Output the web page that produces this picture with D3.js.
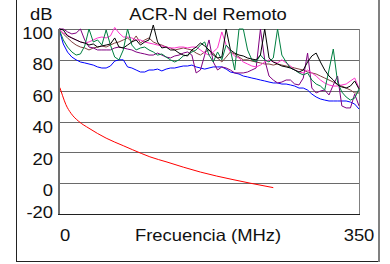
<!DOCTYPE html>
<html>
<head>
<meta charset="utf-8">
<script src="https://cdn.jsdelivr.net/npm/d3@7/dist/d3.min.js"></script>
<style>
  body { margin: 0; background: #fff; }
  svg { display: block; font-family: "Liberation Sans", Arial, sans-serif; }
</style>
</head>
<body>
<svg id="chart" width="390" height="264"></svg>
<script>
// frequency samples (MHz) shared by the measured pairs
const freq = [0, 5, 10, 15, 20, 25, 30, 35, 40, 45, 50, 55, 60, 65, 70, 75, 80, 85, 90, 95,
  100, 105, 110, 115, 120, 125, 130, 135, 140, 145, 150, 155, 160, 165, 170, 175, 180, 185, 190, 195,
  200, 205, 210, 215, 220, 225, 230, 235, 240, 245, 250, 255, 260, 265, 270, 275, 280, 285, 290, 295,
  300, 305, 310, 315, 320, 325, 330, 335, 340, 345, 350];

// ACR-N per pair (dB)
const blue = [100, 90.3, 85, 81.8, 80, 78.6, 78, 77.3, 76.6, 75.4, 74.7, 74.7, 76, 79.2, 80, 80, 75.4, 74.7, 73.4, 72.1,
  72.1, 73.4, 73.4, 74, 72.8, 74, 74.7, 74.7, 75.4, 76, 76, 76.6, 75.4, 74.7, 74, 74.7, 75.4, 75.4, 75.4, 74,
  72.1, 71.5, 70.8, 69.5, 68.9, 68.2, 67.6, 66.9, 66.3, 65.6, 65, 65, 64.3, 64.3, 63.7, 63, 61.7, 61.7, 60.4, 57.8,
  55.9, 54.6, 53.9, 53.3, 53.3, 53.3, 53.3, 53.3, 52.6, 51.3, 48.1];
const green = [100, 92.9, 88.3, 85.1, 83.1, 83.8, 89, 100, 91.6, 92.9, 89.6, 99.4, 89.6, 81.8, 80, 86.4, 100, 89.6, 86.4, 87.7,
  88.3, 86.4, 85.1, 83.1, 83.8, 81.8, 80, 78.6, 80, 82.5, 83.1, 85.1, 86.4, 89.6, 91.6, 83.1, 78.6, 85.1, 80, 89.6,
  86.4, 73.4, 100, 100, 86.4, 80, 78.6, 83.1, 80, 78.6, 81.2, 100, 83.1, 78.6, 74.7, 73.4, 71.5, 70.2, 71.5, 66.9,
  64.3, 63, 60.4, 73.4, 87, 65.6, 59.1, 55.9, 53.9, 55.2, 61.1];
const black = [100, 99.4, 95.5, 94.2, 92.9, 91.6, 90.9, 89.6, 90.3, 88.3, 89, 89.6, 90.3, 94.2, 88.3, 87.7, 89.6, 91.6, 92.9, 89.6,
  91.6, 92.9, 102.6, 91.6, 87.7, 88.3, 86.4, 86.4, 84.4, 83.1, 82.5, 86.4, 88.3, 90.9, 89, 86.4, 83.1, 81.2, 81.8, 100,
  86.4, 84.4, 83.1, 82.5, 81.2, 80.5, 80, 83.1, 100, 81.2, 78.6, 77.3, 76, 75.4, 74.7, 73.4, 72.1, 73.4, 78.6, 82.5,
  84.4, 78.6, 73.4, 69.5, 66.9, 63.7, 62.4, 61.7, 63, 66.3, 61.1];
const pink = [100, 97.4, 96.1, 94.2, 92.9, 91.6, 90.9, 91.6, 92.9, 94.2, 94.8, 94.2, 95.5, 101, 97.4, 94.8, 94.8, 94.2, 92.9, 92.9,
  91.6, 90.9, 90.3, 89.6, 89, 88.3, 87.7, 87.7, 88.3, 88.3, 87.7, 88.3, 88.3, 86.4, 84.4, 83.1, 85.1, 87.7, 98.1, 89.6,
  85.1, 82.5, 81.2, 78.6, 77.3, 76, 75.4, 76.6, 78.6, 80, 78.6, 78, 80, 78, 76, 73.4, 72.1, 71.5, 73.4, 71.5,
  69.5, 66.9, 65, 63.7, 63, 63, 63.7, 64.3, 66.3, 68.2, 61.7];
const purple = [100, 100, 98.1, 96.8, 97.4, 100, 92.9, 88.3, 87.7, 86.4, 86.4, 86.4, 86.4, 87.7, 88.3, 87.7, 87, 86.4, 85.1, 84.4,
  83.8, 83.1, 83.1, 84.4, 83.1, 81.8, 81.2, 82.5, 83.1, 84.4, 85.1, 83.1, 71.5, 73.4, 83.1, 92.9, 78.6, 73.4, 75.4, 74.7,
  73.4, 71.5, 71.5, 71.5, 72.1, 73.4, 74.7, 100, 80, 69.5, 66.9, 65, 65.6, 66.9, 66.9, 64.3, 63.7, 68.2, 84.4, 61.7,
  58.5, 59.8, 60.4, 57.2, 63.7, 69.5, 50.1, 48.8, 48.8, 57.8, 50.1];
const brown = [100, 96.8, 94.2, 91.6, 89.6, 88.3, 87.7, 86.4, 87.7, 88.3, 89, 88.3, 89.6, 90.9, 91.6, 92.9, 94.2, 91.6, 95.5, 90.9,
  92.9, 94.2, 91.6, 90.3, 89.6, 88.3, 87.7, 86.4, 87, 87.7, 87, 86.4, 84.4, 83.1, 85.1, 86.4, 84.4, 81.2, 78.6, 81.8,
  85.1, 83.8, 81.8, 80, 80, 79.2, 78.6, 78, 77.3, 77.3, 76.6, 77.3, 76.6, 76, 75.4, 74.7, 74, 73.4, 72.1, 71.5,
  70.8, 69.5, 68.2, 66.9, 65.6, 64.3, 63, 61.7, 60.4, 58.5, 58.5];

// limit curve
const limitFreq = [1, 4, 8, 14, 23, 35, 55, 75, 96, 106, 126, 145, 165, 184, 203, 223, 250];
const limitDb = [62, 57, 51, 45.3, 40.1, 35.6, 29.2, 24.3, 19.3, 17.1, 13.7, 10.4, 7.2, 4.6, 2.3, 0, -2.9];

const yTicks = [100, 80, 60, 40, 20, 0, -20];
const xTicks = [0, 350];

const margin = { left: 59, right: 31, top: 29, bottom: 50 };
const width = 390, height = 264;

const svg = d3.select("#chart");

const x = d3.scaleLinear().domain([0, 350]).range([margin.left, width - margin.right]);
const y = d3.scaleLinear().domain([-20, 100]).range([height - margin.bottom, margin.top]);

// the original lettering is a little wider than Arial
function label(px, py, txt, anchor) {
  return svg.append("text")
    .attr("transform", `translate(${px},${py}) scale(1.13,1)`)
    .attr("text-anchor", anchor || "start")
    .attr("font-size", 16.3)
    .attr("fill", "#111")
    .text(txt);
}

// outer frame (top runs off the picture)
svg.append("line").attr("x1", 16.5).attr("x2", 16.5).attr("y1", 0).attr("y2", 262)
  .attr("stroke", "#222").attr("stroke-width", 1);
svg.append("line").attr("x1", 16).attr("x2", 380).attr("y1", 261.5).attr("y2", 261.5)
  .attr("stroke", "#222").attr("stroke-width", 1);
svg.append("line").attr("x1", 379).attr("x2", 379).attr("y1", 0).attr("y2", 262)
  .attr("stroke", "#808080").attr("stroke-width", 2);

// gridlines
svg.append("g")
  .selectAll("line")
  .data(yTicks.filter((d) => d > -20))
  .enter()
  .append("line")
  .attr("x1", x(0))
  .attr("x2", x(350))
  .attr("y1", (d) => Math.round(y(d)) + 0.5)
  .attr("y2", (d) => Math.round(y(d)) + 0.5)
  .attr("stroke", "#6a6a6a")
  .attr("stroke-width", 1);

// right border of plot
svg.append("line")
  .attr("x1", x(350) + 0.5).attr("x2", x(350) + 0.5)
  .attr("y1", y(100)).attr("y2", y(-20))
  .attr("stroke", "#808080");

const line = d3.line()
  .x((d) => x(d[0]))
  .y((d) => y(d[1]));

const series = [
  { values: blue, color: "#0000ff" },
  { values: brown, color: "#804040" },
  { values: purple, color: "#800080" },
  { values: pink, color: "#ff33cc" },
  { values: green, color: "#008040" },
  { values: black, color: "#000000" },
];

svg.append("g")
  .selectAll("path")
  .data(series)
  .enter()
  .append("path")
  .attr("d", (s) => line(freq.map((f, i) => [f, s.values[i]])))
  .attr("fill", "none")
  .attr("stroke", (s) => s.color)
  .attr("stroke-width", 1);

const smooth = d3.line()
  .x((d) => x(d[0]))
  .y((d) => y(d[1]))
  .curve(d3.curveMonotoneX);

svg.append("path")
  .attr("d", smooth(limitFreq.map((f, i) => [f, limitDb[i]])))
  .attr("fill", "none")
  .attr("stroke", "#ff0000")
  .attr("stroke-width", 1);

// axis lines
svg.append("line")
  .attr("x1", x(0)).attr("x2", x(0))
  .attr("y1", y(100)).attr("y2", y(-20) + 1)
  .attr("stroke", "#707070").attr("stroke-width", 2);
svg.append("line")
  .attr("x1", x(0) - 1).attr("x2", x(350) + 1)
  .attr("y1", y(-20) + 0.5).attr("y2", y(-20) + 0.5)
  .attr("stroke", "#202020").attr("stroke-width", 1);

// y labels (the bottom one sits tighter on its line)
yTicks.forEach((d) => {
  label(53, y(d) + (d === -20 ? 4.3 : 9.5 + (100 - d) * 0.035), d, "end");
});

// x labels
label(x(xTicks[0]) + 1, 240.5, xTicks[0]);
label(x(xTicks[1]), 240.5, xTicks[1], "middle");
label((x(0) + x(350)) / 2 - 1, 240.5, "Frecuencia (MHz)", "middle");

label((x(0) + x(350)) / 2 - 1, 19.5, "ACR-N del Remoto", "middle");
label(30, 19.5, "dB");
</script>
</body>
</html>
